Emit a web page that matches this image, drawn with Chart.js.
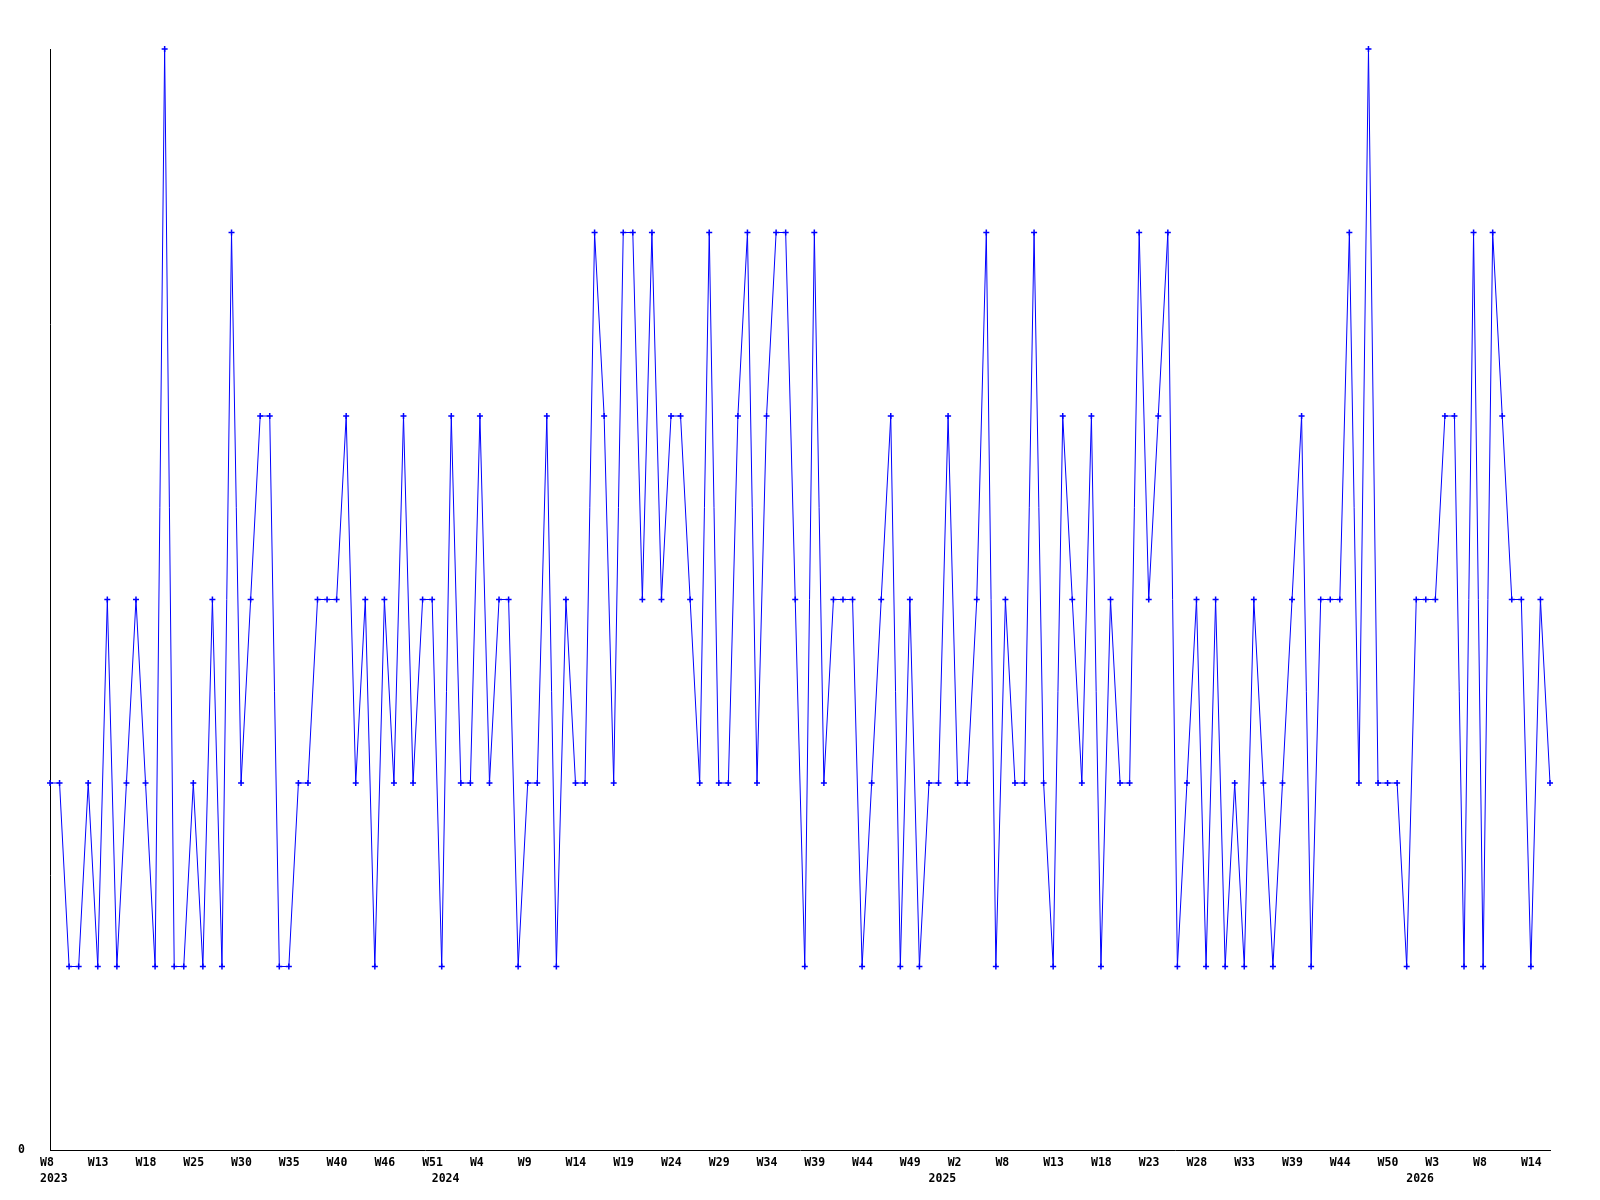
<!DOCTYPE html>
<html>
<head>
<meta charset="utf-8">
<script src="https://cdn.jsdelivr.net/npm/chart.js@4.4.1/dist/chart.umd.min.js"></script>
<style>
  body { margin: 0; background: #fff; }
  canvas { display: block; }
</style>
</head>
<body>
<canvas id="myChart" width="1600" height="1200"></canvas>
<script>
// one value per week, 2023 W8 .. 2026 W15
var values = [
  2,2,1,1,2,1,3,1,2,3,
  2,1,6,1,1,2,1,3,1,5,
  2,3,4,4,1,1,2,2,3,3,
  3,4,2,3,1,3,2,4,2,3,
  3,1,4,2,2,4,2,3,3,1,
  2,2,4,1,3,2,2,5,4,2,
  5,5,3,5,3,4,4,3,2,5,
  2,2,4,5,2,4,5,5,3,1,
  5,2,3,3,3,1,2,3,4,1,
  3,1,2,2,4,2,2,3,5,1,
  3,2,2,5,2,1,4,3,2,4,
  1,3,2,2,5,3,4,5,1,2,
  3,1,3,1,2,1,3,2,1,2,
  3,4,1,3,3,3,5,2,6,2,
  2,2,1,3,3,3,4,4,1,5,
  1,5,4,3,3,1,3,2
];

// week label shown on every 5th point
var weekTicks = [
  'W8','W13','W18','W25','W30','W35','W40','W46','W51',
  'W4','W9','W14','W19','W24','W29','W34','W39','W44','W49',
  'W2','W8','W13','W18','W23','W28','W33','W39','W44','W50',
  'W3','W8','W14'
];
var yearTicks = ['2023','2024','2025','2026'];
var yearAt = [0, 41, 93, 143];
var tickEvery = 5;

var categories = values.map(function(v, i){ return i; });

function tickLabel(i){
  var week = i % tickEvery === 0 ? weekTicks[i / tickEvery] : '';
  var y = yearAt.indexOf(i);
  if (y >= 0) return [week || '', yearTicks[y]];
  return week || '';
}

var tickFont = { family: 'DejaVu Sans Mono', size: 11.5, weight: 'bold', lineHeight: '16px' };

var ctx = document.getElementById('myChart');
var myChart = new Chart(ctx, {
  type: 'line',
  data: {
    labels: categories,
    datasets: [{
      data: values,
      borderColor: '#0000ff',
      borderWidth: 1,
      tension: 0,
      pointStyle: 'cross',
      pointRadius: 3,
      pointBorderColor: '#0000ff',
      pointBorderWidth: 1.5,
      clip: false
    }]
  },
  options: {
    responsive: false,
    animation: false,
    layout: { padding: { top: 49, right: 50, left: 0, bottom: 0 } },
    plugins: {
      legend: { display: false },
      tooltip: { enabled: false }
    },
    scales: {
      x: {
        offset: false,
        grid: { display: false, drawTicks: false },
        border: { display: true, color: '#000', width: 1 },
        afterFit: function(s){ s.height = 50; },
        ticks: {
          autoSkip: false,
          maxRotation: 0,
          minRotation: 0,
          align: 'start',
          labelOffset: -10,
          padding: 5,
          color: '#000',
          font: tickFont,
          callback: function(value, index){ return tickLabel(index); }
        }
      },
      y: {
        min: 0,
        max: 6,
        grid: { display: false, drawTicks: false },
        border: { display: true, color: '#000', width: 1 },
        afterFit: function(s){ s.width = 50; },
        ticks: {
          stepSize: 1,
          padding: 25,
          color: '#000',
          font: tickFont,
          callback: function(value){ return value === 0 ? '0' : ''; }
        }
      }
    }
  }
});
</script>
</body>
</html>
